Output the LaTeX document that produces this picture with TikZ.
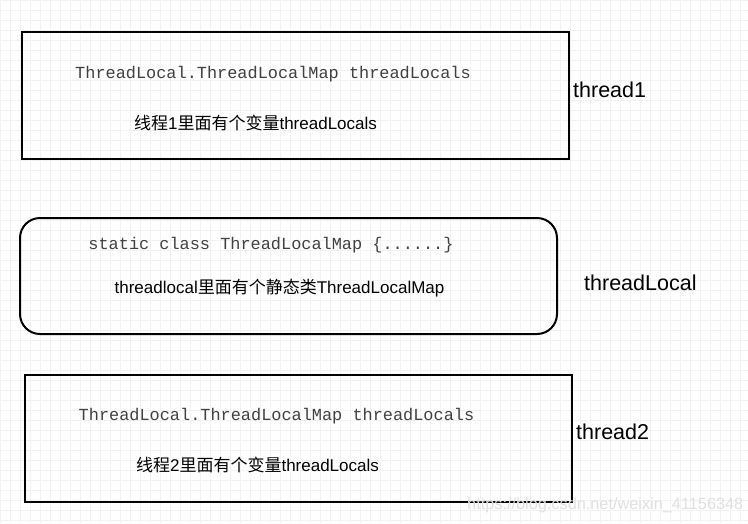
\documentclass[tikz,border=0pt]{standalone}
\usepackage{fontspec}
\setmainfont{Liberation Sans}
\setmonofont{Liberation Mono}
\newfontfamily\cjk{Noto Sans CJK SC}
\usetikzlibrary{positioning}
\tikzset{
  gridline/.style={draw=black!5, line width=0.6pt},
  thbox/.style={rectangle, draw=black, line width=2pt, minimum width=547pt, minimum height=127pt},
  mapbox/.style={rectangle, rounded corners=20pt, draw=black, line width=2pt, minimum width=537pt, minimum height=116pt},
  code/.style={font=\ttfamily\fontsize{16.9}{20}\selectfont, text=black!75, inner sep=0pt},
  note/.style={font=\fontsize{17}{20}\selectfont, inner sep=0pt},
  tag/.style={font=\fontsize{21.5}{25}\selectfont, anchor=west, inner sep=0pt},
  wmark/.style={font=\fontsize{16.3}{18}\selectfont, text=black!12, anchor=west, inner sep=0pt}
}

\begin{document}
\begin{tikzpicture}[x=1pt, y=-1pt]
  \useasboundingbox (0,0) rectangle (748,523);
  % background grid
  \foreach \gx in {0,10,...,740} \draw[gridline] (\gx,0) -- (\gx,523);
  \foreach \gy in {0,10,...,520} \draw[gridline] (0,\gy) -- (748,\gy);

  % thread1
  \node[thbox] (T1) at (295.5,95.5) {};
  \node[code] (T1code) at (273,74) {ThreadLocal.ThreadLocalMap threadLocals};
  \node[note] (T1note) at (255.5,123) {{\cjk 线程}1{\cjk 里面有个变量}threadLocals};
  \node[tag] (T1tag) at (573,90) {thread1};

  % threadLocal
  \node[mapbox] (TL) at (288.5,276) {};
  \node[code] (TLcode) at (271,245) {static class ThreadLocalMap \{......\}};
  \node[note] (TLnote) at (279.5,288) {threadlocal{\cjk 里面有个静态类}ThreadLocalMap};
  \node[tag] (TLtag) at (584,283) {threadLocal};

  % thread2
  \node[thbox] (T2) at (298.5,438) {};
  \node[code] (T2code) at (276.5,416) {ThreadLocal.ThreadLocalMap threadLocals};
  \node[note] (T2note) at (257.5,465) {{\cjk 线程}2{\cjk 里面有个变量}threadLocals};
  \node[tag] (T2tag) at (576,432) {thread2};

  \node[wmark] (wm) at (467,505) {https://blog.csdn.net/weixin\_41156348};
\end{tikzpicture}
\end{document}
